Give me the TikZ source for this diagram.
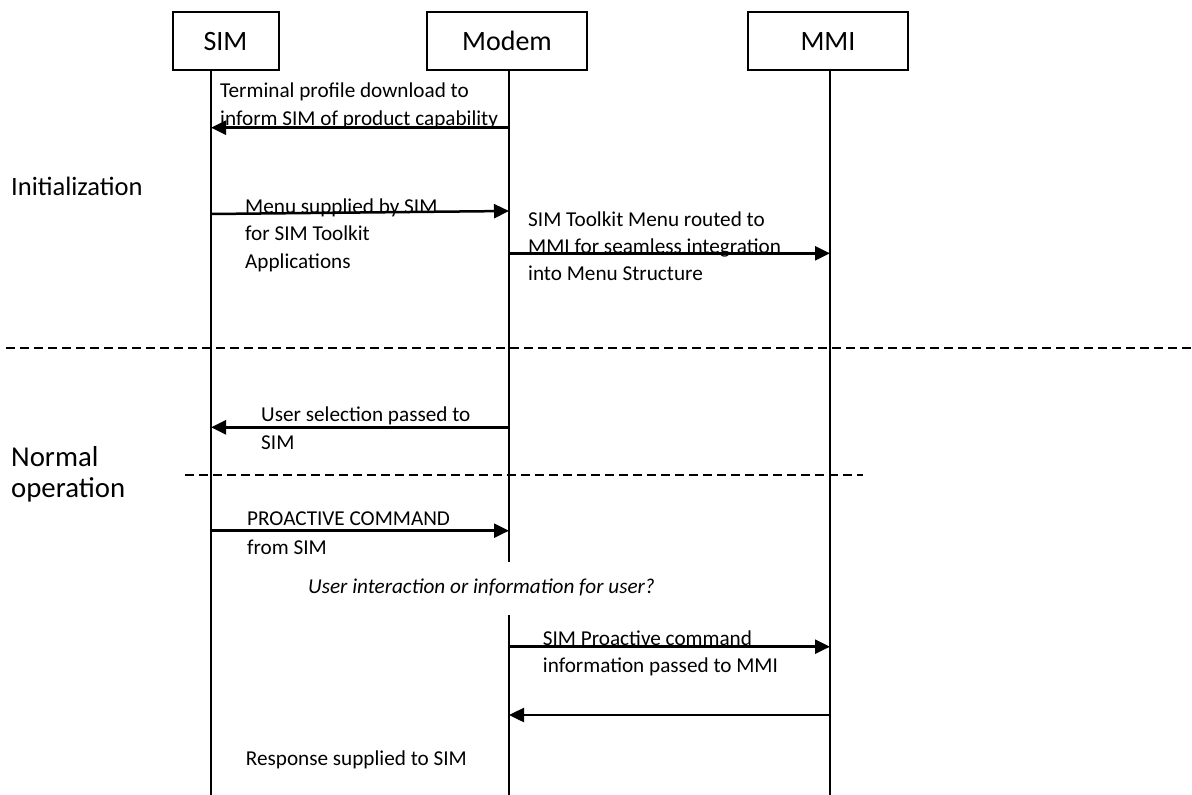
\documentclass[tikz,border=0pt]{standalone}
\usepackage{fontspec}
\setmainfont{Carlito}
\usetikzlibrary{arrows.meta}
\begin{document}
\begin{tikzpicture}[x=1pt,y=-1pt,
  actor/.style={draw, line width=2pt, minimum width=#1, minimum height=58pt, inner sep=0pt, text height=18pt, text depth=0pt, font=\fontsize{28}{32}\selectfont},
  life/.style={line width=1.9pt},
  msg/.style={line width=2.5pt, -{Triangle[length=15pt,width=14pt]}},
  lbl/.style={anchor=base west, inner sep=0pt, font=\fontsize{21.2}{26}\selectfont},
  ilbl/.style={lbl, font=\fontsize{21.2}{26}\selectfont\itshape},
  phase/.style={anchor=base west, inner sep=0pt, font=\fontsize{26.5}{31}\selectfont},
  phasebig/.style={anchor=base west, inner sep=0pt, font=\fontsize{28.8}{31}\selectfont},
  sepline/.style={line width=1.9pt, dash pattern=on 9pt off 5pt}]
\useasboundingbox (0,0) rectangle (1192,795);
\fill[white] (0,0) rectangle (1192,795);

% actors
\node[actor=106pt] (sim) at (225.5,41) {SIM};
\node[actor=160pt] (modem) at (507,41) {Modem};
\node[actor=160pt] (mmi) at (828,41) {MMI};

% lifelines
\coordinate (simTop) at (211,70);
\coordinate (simBot) at (211,796);
\coordinate (modTop) at (509,70);
\coordinate (modGapA) at (509,561.7);
\coordinate (modGapB) at (509,615);
\coordinate (modBot) at (509,796);
\coordinate (mmiTop) at (830,70);
\coordinate (mmiBot) at (830,796);
\draw[life] (simTop) -- (simBot);
\draw[life] (modTop) -- (modGapA);
\draw[life] (modGapB) -- (modBot);
\draw[life] (mmiTop) -- (mmiBot);

% separators
\coordinate (sepAL) at (6,348.3);
\coordinate (sepAR) at (1195,348.3);
\coordinate (sepBL) at (185,475);
\coordinate (sepBR) at (863,475);
\draw[sepline] (sepAL) -- (sepAR);
\draw[sepline] (sepBL) -- (sepBR);

% phase labels
\node[phase] (pinit) at (11,195) {Initialization};
\node[phasebig] (pnorm1) at (11,466.5) {Normal};
\node[phasebig] (pnorm2) at (11,497) {operation};

% message end points
\coordinate (m1s) at (509,127.7); \coordinate (m1e) at (211,127.7);
\coordinate (m2s) at (211,214);   \coordinate (m2e) at (509,211);
\coordinate (m3s) at (509,253.3); \coordinate (m3e) at (830,253.3);
\coordinate (m4s) at (509,427.3); \coordinate (m4e) at (211,427.3);
\coordinate (m5s) at (211,530.7); \coordinate (m5e) at (509,530.7);
\coordinate (m6s) at (509,646.7); \coordinate (m6e) at (830,646.7);
\coordinate (m7s) at (830,715);   \coordinate (m7e) at (509,715);

% labels
\node[lbl] (t1a) at (220,97.7) {Terminal profile download to};
\node[lbl] (t1b) at (220,125) {inform SIM of product capability};
\node[lbl] (t2a) at (245,213) {Menu supplied by SIM};
\node[lbl] (t2b) at (245,240.5) {for SIM Toolkit};
\node[lbl] (t2c) at (245,268) {Applications};
\node[lbl] (t3a) at (528,226) {SIM Toolkit Menu routed to};
\node[lbl] (t3b) at (528,253) {MMI for seamless integration};
\node[lbl] (t3c) at (528,280.5) {into Menu Structure};
\node[lbl] (t4a) at (261,421) {User selection passed to};
\node[lbl] (t4b) at (261,449) {SIM};
\node[lbl] (t5a) at (247,525.7) {PROACTIVE COMMAND};
\node[lbl] (t5b) at (247,554) {from SIM};
\node[ilbl] (t6) at (308,593.3) {User interaction or information for user?};
\node[lbl] (t7a) at (542.7,645) {SIM Proactive command};
\node[lbl] (t7b) at (542.7,672) {information passed to MMI};
\node[lbl] (t8) at (245.7,765.7) {Response supplied to SIM};

% messages
\draw[msg] (m1s) -- (m1e);
\draw[msg] (m2s) -- (m2e);
\draw[msg] (m3s) -- (m3e);
\draw[msg] (m4s) -- (m4e);
\draw[msg] (m5s) -- (m5e);
\draw[msg] (m6s) -- (m6e);
\draw[msg] (m7s) -- (m7e);
\end{tikzpicture}
\end{document}
